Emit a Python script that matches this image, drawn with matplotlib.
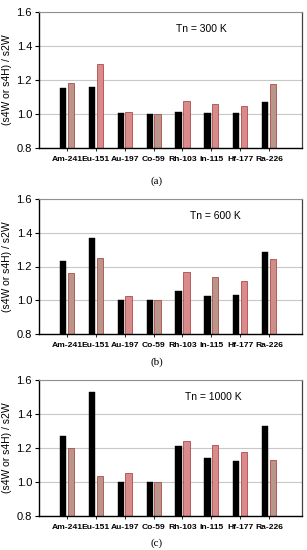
import matplotlib
matplotlib.use("Agg")
import matplotlib.pyplot as plt
import numpy as np

plt.rcParams["font.family"] = ["Liberation Sans", "DejaVu Sans"]

isotopes = ["Am-241", "Eu-151", "Au-197", "Co-59", "Rh-103", "In-115", "Hf-177", "Ra-226"]
temps = ["Tn = 300 K", "Tn = 600 K", "Tn = 1000 K"]
captions = ["(a)", "(b)", "(c)"]

s2w_300 = [1.153, 1.157, 1.003, 1.000, 1.013, 1.005, 1.007, 1.070]
s4_300 = [1.182, 1.297, 1.009, 1.000, 1.078, 1.058, 1.050, 1.176]
s2w_600 = [1.233, 1.371, 1.003, 1.000, 1.055, 1.025, 1.033, 1.286]
s4_600 = [1.159, 1.251, 1.024, 1.000, 1.168, 1.137, 1.115, 1.245]
s2w_1000 = [1.270, 1.531, 1.002, 1.000, 1.213, 1.142, 1.124, 1.332]
s4_1000 = [1.199, 1.036, 1.051, 1.000, 1.244, 1.220, 1.179, 1.132]

black_series = [s2w_300, s2w_600, s2w_1000]
second_series = [s4_300, s4_600, s4_1000]

TAN = "#b8978a"
PINK = "#d98a8a"
second_colors = [
    [TAN, PINK, PINK, TAN, PINK, PINK, PINK, TAN],
    [TAN, TAN, PINK, TAN, PINK, TAN, PINK, "#cc9088"],
    [TAN, TAN, PINK, TAN, PINK, PINK, PINK, TAN],
]

fig = plt.figure(figsize=(3.07, 5.5), dpi=100)
W, H = 307, 550
panels = [(12, 148), (199, 334), (380, 516)]
text_pos = [(176, 29), (190, 216), (185, 397)]
cap_y = [181, 362, 543]

x = np.arange(len(isotopes))
bw = 0.22
off = 0.135
for i, (top, bot) in enumerate(panels):
    ax = fig.add_axes([39 / W, 1 - bot / H, (302 - 39) / W, (bot - top) / H])
    ax.set_axisbelow(True)
    ax.yaxis.grid(True, color="#c8c8c8", lw=0.8)
    ax.bar(x - off, black_series[i], bw, bottom=0, color="black", edgecolor="black", lw=0.3)
    ax.bar(x + off, second_series[i], bw, bottom=0, color=second_colors[i],
           edgecolor="#b04a4a", lw=0.6)
    ax.set_ylim(0.8, 1.6)
    ax.set_xlim(-0.97, 8.14)
    ax.set_yticks([0.8, 1.0, 1.2, 1.4, 1.6])
    ax.set_yticklabels(["0.8", "1.0", "1.2", "1.4", "1.6"])
    ax.set_xticks(x)
    ax.set_xticklabels(isotopes, fontweight="bold", fontsize=6.1)
    ax.tick_params(axis="y", labelsize=8, length=3, width=0.8, pad=2)
    ax.tick_params(axis="x", length=2, width=0.6, pad=4)
    ax.spines["left"].set_color("black")
    ax.spines["bottom"].set_color("black")
    ax.spines["left"].set_linewidth(1.0)
    ax.spines["bottom"].set_linewidth(1.0)
    ax.spines["top"].set_color("#909090")
    ax.spines["top"].set_linewidth(0.8)
    ax.spines["right"].set_color("#404040")
    ax.spines["right"].set_linewidth(0.9)
    ax.set_ylabel("(s4W or s4H) / s2W", fontsize=7.5, labelpad=3)
    tx, ty = text_pos[i]
    fig.text(tx / W, 1 - ty / H, temps[i], fontsize=7.5, ha="left", va="center")
    fig.text(157 / W, 1 - cap_y[i] / H, captions[i], fontsize=8, ha="center", va="center",
             family="Liberation Serif")

fig.savefig("out.png", dpi=100)
